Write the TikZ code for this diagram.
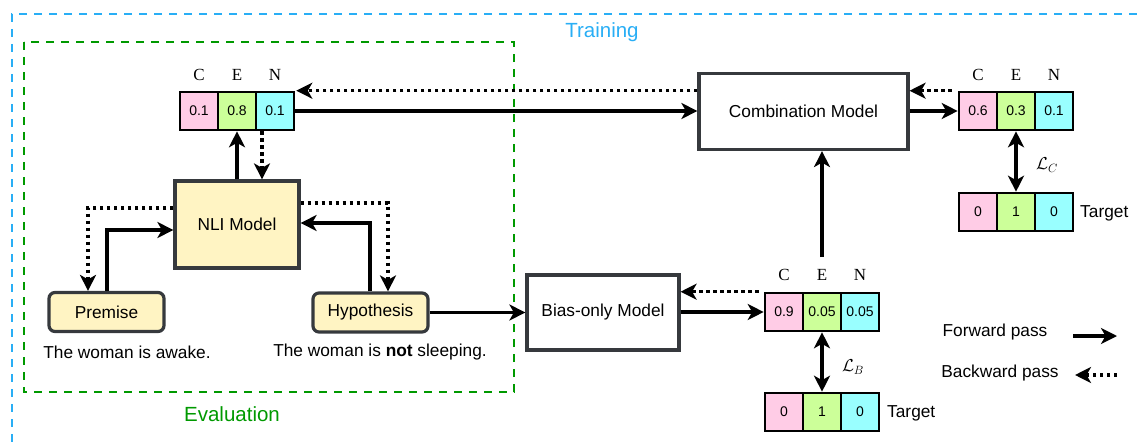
\documentclass[tikz,border=0pt]{standalone}
\usepackage{fontspec}
\setmainfont{Liberation Sans}
\newfontfamily\serifL{Liberation Serif}
\usetikzlibrary{arrows.meta,calc}
\definecolor{cpink}{HTML}{FFCCE6}
\definecolor{clime}{HTML}{CCFF99}
\definecolor{ccyan}{HTML}{99FFFF}
\definecolor{boxline}{HTML}{36393D}
\definecolor{nlifill}{HTML}{FFF4C3}
\definecolor{trainblue}{HTML}{29AEF5}
\definecolor{evalgreen}{HTML}{009900}
\tikzset{
  tip/.tip={Stealth[length=16pt,width=16pt,inset=4.5pt]},
  fwd/.style={line width=3.2pt,-tip},
  bwd/.style={line width=3.2pt,dash pattern=on 3.5pt off 3.5pt,-tip},
  dbl/.style={line width=3.2pt,tip-tip},
  modelbox/.style={draw=boxline,line width=3.2pt,fill=white,inner sep=0pt,font=\fontsize{17.3}{20}\selectfont},
  inbox/.style={modelbox,fill=nlifill,rounded corners=6pt,minimum width=115pt,minimum height=39pt},
  cell/.style={draw=black,line width=2.6pt,minimum width=38pt,minimum height=38pt,inner sep=0pt,font=\fontsize{14}{16}\selectfont},
  lab/.style={font=\serifL\fontsize{17}{20}\selectfont,inner sep=0pt},
  txt/.style={font=\fontsize{17.3}{20}\selectfont,inner sep=0pt},
  bigtxt/.style={font=\fontsize{20.5}{24}\selectfont,inner sep=0pt},
}
\begin{document}
\begin{tikzpicture}[x=1pt,y=-1pt]
\useasboundingbox (0,0) rectangle (1137,444);
% frames
\draw[trainblue,line width=2.2pt,dash pattern=on 8pt off 7pt] (1137,14) -- (12,14) -- (12,444);
\draw[evalgreen,line width=2.2pt,dash pattern=on 8pt off 7pt] (24,42) rectangle (514,392);
\node[bigtxt,text=trainblue] (training) at (602,32) {Training};
\node[bigtxt,text=evalgreen] (evaluation) at (232,414) {Evaluation};

% models
\node[modelbox,fill=nlifill,minimum width=124pt,minimum height=87pt] (nli) at (237,224.5) {NLI Model};
\node[inbox] (premise) at (106.5,312) {Premise};
\node[inbox] (hyp) at (370.5,312.5) {Hypothesis};
\node[modelbox,minimum width=152pt,minimum height=75pt] (bias) at (603,312.5) {Bias-only Model};
\node[modelbox,minimum width=209pt,minimum height=76pt] (comb) at (803.5,111.5) {Combination Model};

\node[txt] (ptext) at (127,352) {The woman is awake.};
\node[txt] (htext) at (380,352) {The woman is \textbf{not} sleeping.};

% NLI vector
\node[cell,fill=cpink] (nC) at (199,111) {0.1};
\node[cell,fill=clime] (nE) at (237,111) {0.8};
\node[cell,fill=ccyan] (nN) at (275,111) {0.1};
\node[lab] (nCl) at (199,75) {C};
\node[lab] (nEl) at (237,75) {E};
\node[lab] (nNl) at (275,75) {N};

% combination vector
\node[cell,fill=cpink] (cC) at (978,111) {0.6};
\node[cell,fill=clime] (cE) at (1016,111) {0.3};
\node[cell,fill=ccyan] (cN) at (1054,111) {0.1};
\node[lab] (cCl) at (978,75) {C};
\node[lab] (cEl) at (1016,75) {E};
\node[lab] (cNl) at (1054,75) {N};
\node[cell,fill=cpink] (ctC) at (978,212) {0};
\node[cell,fill=clime] (ctE) at (1016,212) {1};
\node[cell,fill=ccyan] (ctN) at (1054,212) {0};
\node[txt,anchor=west] (ctT) at (1080,213) {Target};
\node[txt] (lc) at (1047,165) {$\mathcal{L}_C$};

% bias vector
\node[cell,fill=cpink] (bC) at (784,312) {0.9};
\node[cell,fill=clime] (bE) at (822,312) {0.05};
\node[cell,fill=ccyan] (bN) at (860,312) {0.05};
\node[lab] (bCl) at (784,275) {C};
\node[lab] (bEl) at (822,275) {E};
\node[lab] (bNl) at (860,275) {N};
\node[cell,fill=cpink] (btC) at (784,412) {0};
\node[cell,fill=clime] (btE) at (822,412) {1};
\node[cell,fill=ccyan] (btN) at (860,412) {0};
\node[txt,anchor=west] (btT) at (887,413) {Target};
\node[txt] (lb) at (853,367) {$\mathcal{L}_B$};

% legend
\node[txt] (fwdtxt) at (995,332) {Forward pass};
\node[txt] (bwdtxt) at (1000,373) {Backward pass};
\coordinate (fa) at (1073,336);
\coordinate (fb) at (1117,336);
\coordinate (ba) at (1117,375);
\coordinate (bb) at (1075,375);
\draw[fwd] (fa) -- (fb);
\draw[bwd] (ba) -- (bb);

% helper coordinates
\coordinate (pl) at (88,208);
\coordinate (pr) at (107,230);
\coordinate (hl) at (388,203);
\coordinate (hr) at (370,223);
\coordinate (nd) at (262,0);
\coordinate (bup) at (822,257);

% NLI connections
\draw[fwd] (nli.north) -- (nE.south);
\draw[bwd] (nd |- nN.south) -- (nd |- nli.north);
\draw[bwd] (nli.west |- pl) -- (pl) -- (pl |- premise.north);
\draw[fwd] (pr |- premise.north) -- (pr) -- (pr -| nli.west);
\draw[bwd] (nli.east |- hl) -- (hl) -- (hl |- hyp.north);
\draw[fwd] (hr |- hyp.north) -- (hr) -- (hr -| nli.east);

% to combination
\draw[fwd] (nN.east) -- (nN.east -| comb.west);
\draw[bwd] (comb.west |- nN.north east) -- ([xshift=1pt]nN.north east);
\draw[fwd] (comb.east |- cC.west) -- (cC.west);
\draw[bwd] ([xshift=-6pt]cC.north west) -- (comb.east |- cC.north west);
\draw[dbl] (cE.south) -- (ctE.north);

% bias
\draw[fwd] (hyp.east) -- (hyp.east -| bias.west);
\draw[fwd] (bias.east |- bC.west) -- (bC.west);
\draw[bwd] ([xshift=-5pt]bC.north west) -- (bias.east |- bC.north west);
\draw[dbl] (bE.south) -- (btE.north);
\draw[fwd] (bup) -- (bup |- comb.south);
\end{tikzpicture}
\end{document}
